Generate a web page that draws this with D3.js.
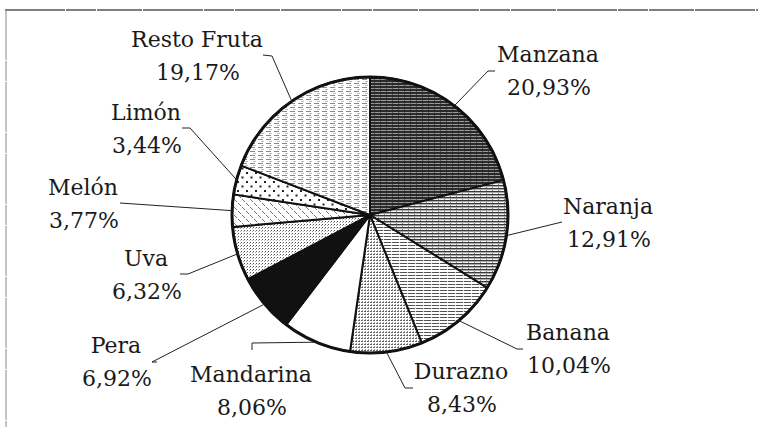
<!DOCTYPE html>
<html>
<head>
<meta charset="utf-8">
<script src="https://cdn.jsdelivr.net/npm/d3@7"></script>
<style>
  body { margin: 0; background: #fff; }
  svg { display: block; }
</style>
</head>
<body>
<div class="chart"></div>
<script>
// data
let fruits = ["Manzana", "Naranja", "Banana", "Durazno", "Mandarina", "Pera", "Uva", "Melón", "Limón", "Resto Fruta"];
let shares = [20.93, 12.91, 10.04, 8.43, 8.06, 6.92, 6.32, 3.77, 3.44, 19.17];
let shareLabels = ["20,93%", "12,91%", "10,04%", "8,43%", "8,06%", "6,92%", "6,32%", "3,77%", "3,44%", "19,17%"];

// layout: label centre (x, first baseline) and leader elbow per slice
let labelAt = [[548, 62], [608, 214], [568, 340], [461, 379], [251, 382], [116, 353], [146, 266], [83, 195], [146, 120], [197, 47]];
let elbowAt = [[488, 71], [562, 222], [517, 349], [405, 388], [252, 343], [152, 362], [188, 274], [120, 203], [190, 128], [272, 56]];
let tickTo = [[495, 71], null, [523, 349], [413, 388], [252, 350], [157, 362], [180, 274], null, [182, 128], [263, 55]];
let fills = ["url(#p0)", "url(#p1)", "url(#p2)", "url(#p3)", "#fff", "#111", "url(#p6)", "url(#p7)", "url(#p8)", "url(#p9)"];

let outWidth = 758, outHeight = 427;
let cx = 370, cy = 215, radius = 138;
let serif = "'DejaVu Serif', 'Liberation Serif', serif";

const svg = d3.select('.chart').append('svg')
	.attr("width", outWidth)
	.attr("height", outHeight);

// scanned-style fill patterns
const defs = svg.append("defs");
function pat(id, w, h, bg) {
	const p = defs.append("pattern").attr("id", id).attr("patternUnits", "userSpaceOnUse")
		.attr("width", w).attr("height", h);
	p.append("rect").attr("width", w).attr("height", h).attr("fill", bg);
	return p;
}
// Manzana: dark horizontal hatching
let p0 = pat("p0", 6, 3, "#9a9a9a");
p0.append("rect").attr("y", 0).attr("width", 6).attr("height", 2).attr("fill", "#2a2a2a");
p0.append("rect").attr("x", 4).attr("y", 2).attr("width", 1).attr("height", 1).attr("fill", "#555");
// Naranja: medium horizontal lines
let p1 = pat("p1", 6, 3, "#f4f4f4");
p1.append("rect").attr("width", 6).attr("height", 1.4).attr("fill", "#3a3a3a");
p1.append("rect").attr("x", 2).attr("y", 2).attr("width", 1).attr("height", 1).attr("fill", "#888");
// Banana: lighter horizontal lines
let p2 = pat("p2", 8, 3, "#fff");
p2.append("rect").attr("width", 8).attr("height", 1).attr("fill", "#555");
p2.append("rect").attr("x", 5).attr("y", 0).attr("width", 1).attr("height", 1).attr("fill", "#ddd");
// Durazno: fine dense dots
let p3 = pat("p3", 3, 3, "#fff");
p3.append("rect").attr("width", 2).attr("height", 1).attr("fill", "#666");
p3.append("rect").attr("x", 1).attr("y", 2).attr("width", 1).attr("height", 1).attr("fill", "#999");
// Uva: fine light dots
let p6 = pat("p6", 3, 3, "#fff");
p6.append("rect").attr("width", 1).attr("height", 1).attr("fill", "#555");
p6.append("rect").attr("x", 2).attr("y", 1).attr("width", 1).attr("height", 1).attr("fill", "#aaa");
// Melón: diagonal dashes
let p7 = pat("p7", 8, 8, "#fff");
p7.append("path").attr("d", "M0,0L3,3M4,4L7,7M-4,4L-1,7M4,-4L7,-1")
	.attr("stroke", "#777").attr("stroke-width", 1);
// Limón: sparse dots
let p8 = pat("p8", 9, 9, "#fff");
p8.append("rect").attr("x", 2).attr("y", 2).attr("width", 2).attr("height", 2).attr("fill", "#222");
p8.append("rect").attr("x", 6.5).attr("y", 6.5).attr("width", 2).attr("height", 2).attr("fill", "#222");
// Resto Fruta: horizontal dashes
let p9 = pat("p9", 8, 4, "#fff");
p9.append("rect").attr("width", 5).attr("height", 1).attr("fill", "#888");
p9.append("rect").attr("x", 3).attr("y", 2).attr("width", 3).attr("height", 1).attr("fill", "#bbb");

// frame (top and left edges survive in the scan)
svg.append("line").attr("x1", 5).attr("y1", 10).attr("x2", outWidth).attr("y2", 10)
	.attr("stroke", "#555").attr("stroke-width", 1.3).attr("stroke-dasharray", "60 1 30 1 45 1");
svg.append("line").attr("x1", 6).attr("y1", 10).attr("x2", 6).attr("y2", outHeight)
	.attr("stroke", "#888").attr("stroke-width", 1).attr("stroke-dasharray", "50 1 20 1");

const g = svg.append("g")
	.attr("transform", `translate(${cx}, ${cy})`);

const pie = d3.pie().sort(null).value(d => d);
const arcs = pie(shares);
const arc = d3.arc().innerRadius(0).outerRadius(radius);
const edge = d3.arc().innerRadius(radius).outerRadius(radius);

g.selectAll("path.slice")
	.data(arcs)
	.enter()
	.append("path")
	.attr("class", "slice")
	.attr("d", arc)
	.attr("fill", (d, i) => fills[i])
	.attr("stroke", "#111")
	.attr("stroke-width", 2)
	.attr("stroke-linejoin", "round");

g.append("circle")
	.attr("r", radius)
	.attr("fill", "none")
	.attr("stroke", "#111")
	.attr("stroke-width", 3);

// leader lines
svg.selectAll("polyline.leader")
	.data(arcs)
	.enter()
	.append("polyline")
	.attr("class", "leader")
	.attr("points", (d, i) => {
		const c = edge.centroid(d);
		let pts = [[cx + c[0], cy + c[1]], elbowAt[i]];
		if (tickTo[i]) pts.push(tickTo[i]);
		return pts.map(p => p.join(",")).join(" ");
	})
	.attr("fill", "none")
	.attr("stroke", "#222")
	.attr("stroke-width", 1);

// labels
const labels = svg.selectAll("text.lab")
	.data(fruits)
	.enter()
	.append("text")
	.attr("class", "lab")
	.attr("text-anchor", "middle")
	.attr("font-family", serif)
	.attr("font-size", 22)
	.attr("fill", "#1a1a1a");
labels.append("tspan")
	.attr("x", (d, i) => labelAt[i][0])
	.attr("y", (d, i) => labelAt[i][1])
	.text(d => d);
labels.append("tspan")
	.attr("x", (d, i) => labelAt[i][0] + 1)
	.attr("y", (d, i) => labelAt[i][1] + 33)
	.text((d, i) => shareLabels[i]);
</script>
</body>
</html>
